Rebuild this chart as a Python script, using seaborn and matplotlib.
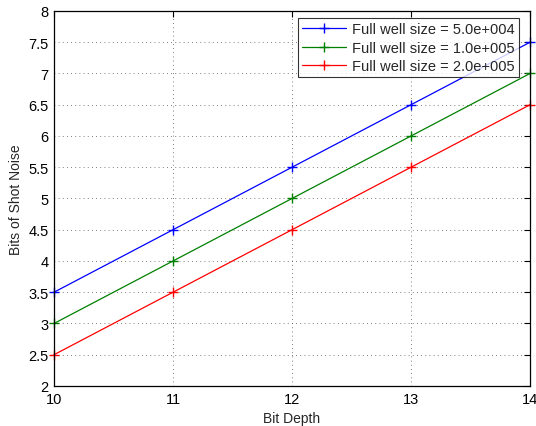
import matplotlib
matplotlib.use("Agg")
import matplotlib.pyplot as plt
import seaborn as sns
import pandas as pd

bit_depth = [10, 11, 12, 13, 14]
noise_5e4 = [3.5, 4.5, 5.5, 6.5, 7.5]
noise_1e5 = [3.0, 4.0, 5.0, 6.0, 7.0]
noise_2e5 = [2.5, 3.5, 4.5, 5.5, 6.5]
labels = ["Full well size = 5.0e+004", "Full well size = 1.0e+005", "Full well size = 2.0e+005"]
colors = ["#0000ff", "#008000", "#ff0000"]

rows = []
for lab, vals in zip(labels, [noise_5e4, noise_1e5, noise_2e5]):
    for x, y in zip(bit_depth, vals):
        rows.append({"Bit Depth": x, "Bits": y, "series": lab})
df = pd.DataFrame(rows)

sns.set_style("white")
plt.rcParams['font.family'] = ['Liberation Sans', 'DejaVu Sans']

fig = plt.figure(figsize=(5.36, 4.27), dpi=100)
ax = fig.add_axes([0.1007, 0.0937, 0.8881, 0.8782])
sns.lineplot(data=df, x="Bit Depth", y="Bits", hue="series", palette=colors,
             marker="+", markersize=7, markeredgewidth=1, linewidth=0.9, ax=ax,
             clip_on=False)
for ln in ax.get_lines():
    ln.set_markeredgecolor(ln.get_color())

ax.set_xlim(10, 14)
ax.set_ylim(2, 8)
ax.set_xticks([10, 11, 12, 13, 14])
ax.set_yticks([2, 2.5, 3, 3.5, 4, 4.5, 5, 5.5, 6, 6.5, 7, 7.5, 8])
ax.set_yticklabels(["2", "2.5", "3", "3.5", "4", "4.5", "5", "5.5", "6", "6.5", "7", "7.5", "8"])
ax.tick_params(direction="in", top=True, right=True, length=4, width=0.8, labelsize=10.5, colors="black", pad=4)
ax.grid(True, linestyle=(0, (1, 4)), color="#555555", linewidth=0.6)
for s in ax.spines.values():
    s.set_color("black")
    s.set_linewidth(0.9)
ax.set_xlabel("Bit Depth", fontsize=10)
ax.set_ylabel("Bits of Shot Noise", fontsize=10)
leg = ax.legend(loc="upper right", bbox_to_anchor=(1 - 11/476, 1 - 7/375), borderaxespad=0,
                fontsize=10.5, frameon=True, fancybox=False,
                edgecolor="black", handlelength=3.0,
                labelspacing=0.3, borderpad=0.3, handletextpad=0.4)
leg.get_frame().set_linewidth(0.8)
for h in leg.get_lines():
    h.set_markeredgecolor(h.get_color())
fig.savefig("out.png", dpi=100)
